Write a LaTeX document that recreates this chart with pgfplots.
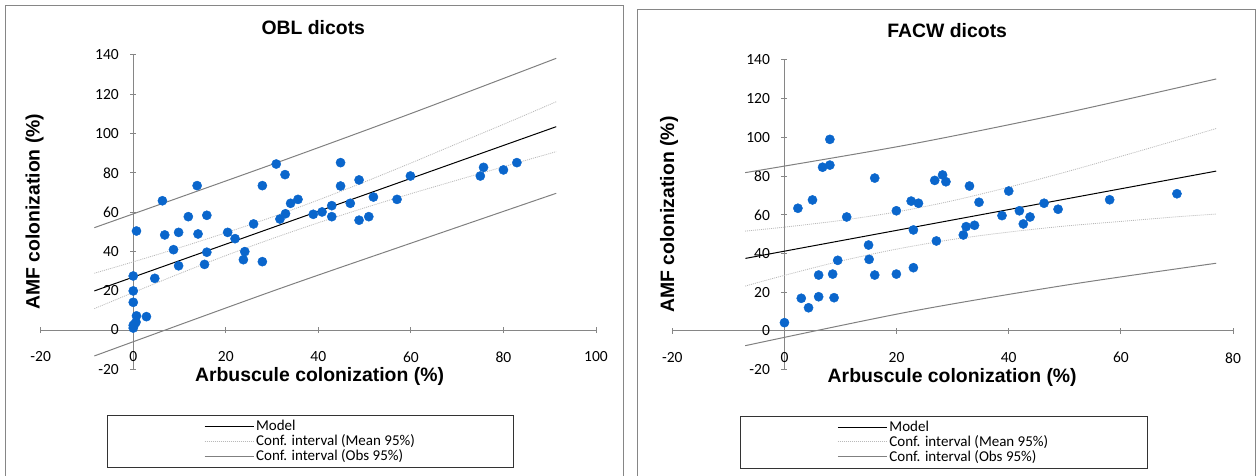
\documentclass[border=0pt]{standalone}
\usepackage{fontspec}
\setmainfont{Carlito}
\newfontfamily\arialfont{Liberation Sans}
\usepackage{pgfplots}
\pgfplotsset{compat=1.18}
\definecolor{axgray}{RGB}{134,134,134}
\definecolor{ptblue}{RGB}{10,102,204}
\definecolor{meangray}{RGB}{185,185,185}
\definecolor{obsgray}{RGB}{128,128,128}
\pgfplotsset{
  mystyle/.style={
    scale only axis,
    axis lines=middle,
    axis line style={draw=axgray, line width=1pt, -},
    hide obscured x ticks=false,
    hide obscured y ticks=false,
    tick style={draw=axgray, line width=1pt},
    major tick length=6pt,
    tick align=center,
    /pgf/number format/assume math mode=true,
    tick label style={font=\fontsize{15.5}{17}\selectfont, text=black},
    xticklabel style={yshift=-15pt},
    yticklabel style={xshift=-8pt},
    legend style={draw=black!80, line width=1pt, fill=white, font=\fontsize{15}{15}\selectfont, inner xsep=97pt, inner ysep=3pt, cells={anchor=west}, row sep=-1.5pt},
    legend image code/.code={\draw[##1] (0pt,0pt) -- (49pt,0pt);},
    legend cell align=left,
  }
}
\begin{document}
\begin{tikzpicture}[x=1pt,y=1pt]
\path[use as bounding box] (0,0) rectangle (1258,476);
\draw[axgray, line width=1pt] (5,-10) rectangle (623.3,470);
\draw[axgray, line width=1pt] (637.3,-10) rectangle (1255.7,466.7);
\node[font=\arialfont\bfseries\fontsize{19.4}{22}\selectfont] at (313.3,448.7) {OBL dicots};
\node[font=\arialfont\bfseries\fontsize{19.4}{22}\selectfont] at (947.2,445) {FACW dicots};
\node[font=\arialfont\bfseries\fontsize{19.4}{22}\selectfont, rotate=90] at (34.5,264.3) {AMF colonization (\%)};
\node[font=\arialfont\bfseries\fontsize{19.4}{22}\selectfont, rotate=90] at (669,261.5) {AMF colonization (\%)};
\node[font=\arialfont\bfseries\fontsize{19.4}{22}\selectfont] at (319.5,99.3) {Arbuscule colonization (\%)};
\node[font=\arialfont\bfseries\fontsize{19.4}{22}\selectfont] at (952.2,98.3) {Arbuscule colonization (\%)};

\begin{axis}[mystyle,
  at={(40.7pt,106.7pt)}, anchor=south west,
  width=555.3pt, height=314.3pt,
  xmin=-20, xmax=100, ymin=-20, ymax=140,
  xtick={-20,0,20,40,60,80,100}, ytick={-20,0,20,40,60,80,100,120,140},
  legend style={at={(0.4859,-0.1454)}, anchor=north},
]
\addplot[only marks, mark=*, mark size=4.6pt, draw=ptblue, fill=ptblue, forget plot] coordinates {
(0,27.5) (0,19.9) (0,14.1) (0.7,7.2) (0.6,4.0) (0,2.4) (0,1.0) (0.3,3.0)
(0.7,50.4) (2.85,6.8) (4.65,26.3) (6.3,65.8) (6.8,48.4) (8.7,40.9) (9.8,49.7)
(9.8,32.7) (11.9,57.7) (13.8,73.5) (14.0,48.9) (15.4,33.4) (15.9,58.4) (15.9,39.6)
(20.4,49.7) (22.0,46.5) (24.1,39.9) (23.8,35.8) (26.0,54.0) (27.9,73.5) (27.9,34.8)
(30.9,84.5) (32.8,79.1) (31.7,56.5) (32.9,59.2) (34.0,64.5) (35.6,66.5) (38.9,58.9)
(40.8,60.1) (42.9,63.3) (42.9,57.7) (44.8,85.2) (44.8,73.3) (46.9,64.5) (48.8,76.4)
(48.8,55.9) (50.9,57.7) (51.9,67.7) (57.0,66.5) (59.9,78.4) (75.0,78.4) (75.7,82.8)
(80.0,81.5) (82.9,85.2)
};
\addplot[black, line width=1pt] coordinates {(-8.4,19.9) (91.4,103.5)};
\addlegendentry{Model}
\addplot[meangray, line width=0.8pt, dash pattern=on 1pt off 1pt, smooth] coordinates {
(-8.4,28.9) (0,34.7) (10,41.9) (20,49.5) (30,57.5) (40,66.2) (50,75.4) (60,85.0) (70,94.9) (80,104.7) (91.4,116.2)};
\addlegendentry{Conf. interval (Mean 95\%)}
\addplot[meangray, line width=0.8pt, dash pattern=on 1pt off 1pt, smooth, forget plot] coordinates {
(-8.4,10.9) (0,19.1) (10,28.7) (20,37.9) (30,46.5) (40,54.6) (50,62.2) (60,69.4) (70,76.3) (80,83.1) (91.4,90.8)};
\addplot[obsgray, line width=1pt, smooth] coordinates {
(-8.4,52.1) (30,84.3) (60,110.2) (91.4,138.3)};
\addlegendentry{Conf. interval (Obs 95\%)}
\addplot[obsgray, line width=1pt, smooth, forget plot] coordinates {
(-8.4,-13.2) (30,19.7) (60,44.2) (91.4,69.6)};
\end{axis}

\begin{axis}[mystyle,
  at={(672.3pt,106.3pt)}, anchor=south west,
  width=560.7pt, height=309.7pt,
  xmin=-20, xmax=80, ymin=-20, ymax=140,
  xtick={-20,0,20,40,60,80}, ytick={-20,0,20,40,60,80,100,120,140},
  legend style={at={(0.4843,-0.1485)}, anchor=north},
]
\addplot[only marks, mark=*, mark size=4.6pt, draw=ptblue, fill=ptblue, forget plot] coordinates {
(0,4.3) (2.4,63.4) (3.0,16.9) (4.3,12.0) (5.0,67.7) (6.1,17.7) (6.1,28.9)
(6.8,84.6) (8.1,99.0) (8.1,85.7) (8.6,29.4) (8.85,17.2) (9.5,36.5) (11.1,58.9)
(15.0,44.4) (15.1,37.0) (16.1,28.9) (16.1,79.0) (19.96,62.1) (19.96,29.4)
(22.6,67.1) (23.0,52.2) (23.0,32.7) (23.9,66.0) (27.1,46.5) (26.8,77.8)
(28.2,80.6) (28.8,77.1) (33.0,74.9) (34.7,66.5) (31.9,49.6) (32.4,53.9)
(33.9,54.6) (38.8,59.6) (40.0,72.3) (41.9,62.1) (42.6,55.3) (43.8,58.9)
(46.3,66.0) (48.8,62.9) (58.0,67.8) (70.0,70.9)
};
\addplot[black, line width=1pt] coordinates {(-6.95,37.5) (77,82.6)};
\addlegendentry{Model}
\addplot[meangray, line width=0.8pt, dash pattern=on 1pt off 1pt, smooth] coordinates {
(-7,51.6) (0,53.65) (10,57.1) (20,61.5) (30,67.3) (40,74.3) (50,82.0) (60,90.2) (70,98.6) (77,104.6)};
\addlegendentry{Conf. interval (Mean 95\%)}
\addplot[meangray, line width=0.8pt, dash pattern=on 1pt off 1pt, smooth, forget plot] coordinates {
(-7,23.2) (0,28.75) (10,36.1) (20,42.3) (30,47.3) (40,51.1) (50,54.2) (60,56.6) (70,59.0) (77,60.4)};
\addplot[obsgray, line width=1pt, smooth] coordinates {
(-7,81.8) (22,96.2) (50,112.6) (77,130.2)};
\addlegendentry{Conf. interval (Obs 95\%)}
\addplot[obsgray, line width=1pt, smooth, forget plot] coordinates {
(-7,-7.6) (22,9.8) (50,23.6) (77,35.0)};
\end{axis}
\end{tikzpicture}
\end{document}
